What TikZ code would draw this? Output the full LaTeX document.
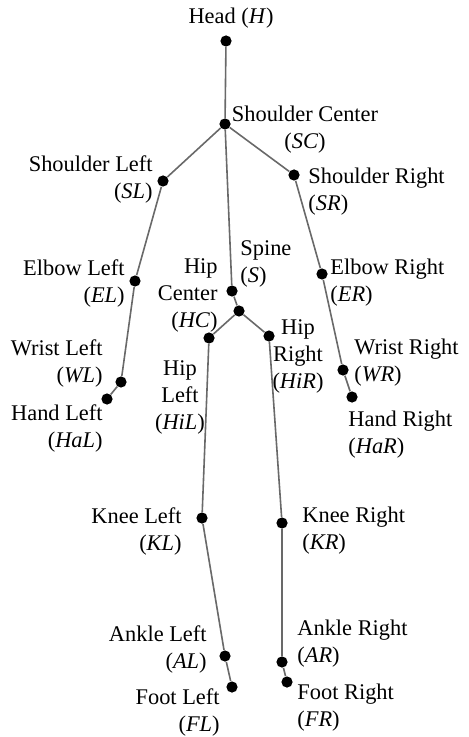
\documentclass[tikz,border=0pt]{standalone}
\usepackage{fontspec}
\setmainfont{Liberation Serif}
\usepackage{tikz}
\definecolor{bonegray}{RGB}{105,105,105}
\tikzset{
  joint/.style={circle,fill=black,inner sep=0pt,minimum size=5.6pt},
  bone/.style={draw=bonegray,line width=0.8pt},
  lbl/.style={inner sep=0pt,font=\fontsize{11.2}{13.5}\selectfont},
}

\begin{document}
\begin{tikzpicture}[x=0.5pt,y=-0.5pt]
\useasboundingbox (0,0) rectangle (468,737);
\node[joint] (H) at (226,41) {};
\node[joint] (SC) at (225,124) {};
\node[joint] (SL) at (163,181) {};
\node[joint] (SR) at (294,175) {};
\node[joint] (EL) at (135,281) {};
\node[joint] (ER) at (322,274) {};
\node[joint] (WL) at (121,382) {};
\node[joint] (WR) at (343,370) {};
\node[joint] (HaL) at (107,399) {};
\node[joint] (HaR) at (352,397) {};
\node[joint] (S) at (232,291) {};
\node[joint] (HC) at (239,311) {};
\node[joint] (HiL) at (209,338) {};
\node[joint] (HiR) at (269,336) {};
\node[joint] (KL) at (202,518) {};
\node[joint] (KR) at (282,523) {};
\node[joint] (AL) at (225,656) {};
\node[joint] (AR) at (282,662) {};
\node[joint] (FL) at (232,687) {};
\node[joint] (FR) at (287,682) {};

\draw[bone] (H) -- (SC) -- (S) -- (HC);
\draw[bone] (SC) -- (SL) -- (EL) -- (WL) -- (HaL);
\draw[bone] (SC) -- (SR) -- (ER) -- (WR) -- (HaR);
\draw[bone] (HC) -- (HiL) -- (KL) -- (AL) -- (FL);
\draw[bone] (HC) -- (HiR) -- (KR) -- (AR) -- (FR);

\node[lbl] (lH) at (231,18) {Head (\textit{H})};
\node[lbl,align=center] (lSC) at (305,130) {Shoulder Center\\(\textit{SC})};
\node[lbl,align=right,anchor=east] (lSL) at (153,180) {Shoulder Left\\(\textit{SL})};
\node[lbl,align=left,anchor=west] (lSR) at (308,192) {Shoulder Right\\(\textit{SR})};
\node[lbl,align=left,anchor=west] (lS) at (240,264) {Spine\\(\textit{S})};
\node[lbl,align=right,anchor=east] (lEL) at (125,283) {Elbow Left\\(\textit{EL})};
\node[lbl,align=right,anchor=east] (lHC) at (218,295) {Hip\\Center\\(\textit{HC})};
\node[lbl,align=left,anchor=west] (lER) at (330,283) {Elbow Right\\(\textit{ER})};
\node[lbl,align=center] (lHiR) at (298,356) {Hip\\Right\\(\textit{HiR})};
\node[lbl,align=center] (lHiL) at (180,397) {Hip\\Left\\(\textit{HiL})};
\node[lbl,align=right,anchor=east] (lWL) at (103,363) {Wrist Left\\(\textit{WL})};
\node[lbl,align=right,anchor=east] (lHaL) at (103,428) {Hand Left\\(\textit{HaL})};
\node[lbl,align=left,anchor=west] (lWR) at (354,363) {Wrist Right\\(\textit{WR})};
\node[lbl,align=left,anchor=west] (lHaR) at (348,435) {Hand Right\\(\textit{HaR})};
\node[lbl,align=right,anchor=east] (lKL) at (182,531) {Knee Left\\(\textit{KL})};
\node[lbl,align=left,anchor=west] (lKR) at (302,531) {Knee Right\\(\textit{KR})};
\node[lbl,align=right,anchor=east] (lAL) at (207,649) {Ankle Left\\(\textit{AL})};
\node[lbl,align=left,anchor=west] (lAR) at (297,644) {Ankle Right\\(\textit{AR})};
\node[lbl,align=right,anchor=east] (lFL) at (220,712) {Foot Left\\(\textit{FL})};
\node[lbl,align=left,anchor=west] (lFR) at (297,708) {Foot Right\\(\textit{FR})};
\end{tikzpicture}
\end{document}
